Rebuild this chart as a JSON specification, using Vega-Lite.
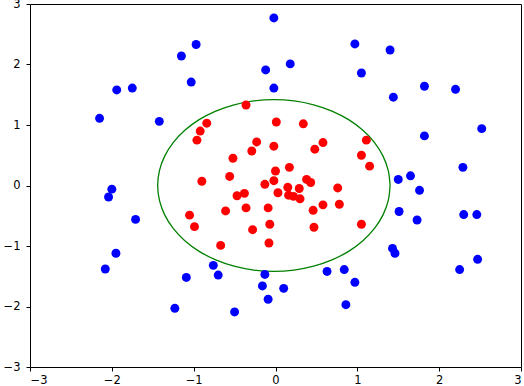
{
  "$schema": "https://vega.github.io/schema/vega-lite/v6.json",
  "width": 491,
  "height": 363,
  "autosize": {"type": "none"},
  "padding": {"left": 30, "top": 4, "right": 3, "bottom": 19},
  "background": "white",
  "config": {
    "view": {"stroke": "black", "strokeWidth": 1},
    "axis": {
      "grid": false,
      "domain": false,
      "tickColor": "black",
      "tickSize": 4,
      "labelColor": "black",
      "labelFont": "DejaVu Sans",
      "labelFontSize": 11.5,
      "format": "d",
      "title": null
    }
  },
  "datasets": {
    "pts": [
      {"x": -0.02, "y": 2.77, "c": "outer"}, {"x": -0.97, "y": 2.33, "c": "outer"}, {"x": -1.15, "y": 2.14, "c": "outer"},
      {"x": -0.12, "y": 1.91, "c": "outer"}, {"x": -1.03, "y": 1.71, "c": "outer"}, {"x": -0.02, "y": 1.61, "c": "outer"},
      {"x": -1.94, "y": 1.58, "c": "outer"}, {"x": -1.75, "y": 1.61, "c": "outer"}, {"x": -2.15, "y": 1.11, "c": "outer"},
      {"x": -1.42, "y": 1.06, "c": "outer"}, {"x": -2.0, "y": -0.06, "c": "outer"}, {"x": -2.04, "y": -0.19, "c": "outer"},
      {"x": 0.97, "y": 2.34, "c": "outer"}, {"x": 1.40, "y": 2.24, "c": "outer"}, {"x": 0.18, "y": 2.01, "c": "outer"},
      {"x": 1.05, "y": 1.86, "c": "outer"}, {"x": 1.82, "y": 1.64, "c": "outer"}, {"x": 2.20, "y": 1.59, "c": "outer"},
      {"x": 1.44, "y": 1.46, "c": "outer"}, {"x": 2.52, "y": 0.94, "c": "outer"}, {"x": 1.82, "y": 0.82, "c": "outer"},
      {"x": 2.29, "y": 0.30, "c": "outer"}, {"x": 1.50, "y": 0.10, "c": "outer"}, {"x": 1.65, "y": 0.16, "c": "outer"},
      {"x": 1.76, "y": -0.08, "c": "outer"}, {"x": 1.51, "y": -0.43, "c": "outer"}, {"x": 1.73, "y": -0.57, "c": "outer"},
      {"x": 2.30, "y": -0.48, "c": "outer"}, {"x": 2.46, "y": -0.48, "c": "outer"}, {"x": 1.43, "y": -1.04, "c": "outer"},
      {"x": 1.46, "y": -1.12, "c": "outer"}, {"x": 2.47, "y": -1.22, "c": "outer"}, {"x": 2.25, "y": -1.39, "c": "outer"},
      {"x": 0.63, "y": -1.42, "c": "outer"}, {"x": 0.84, "y": -1.39, "c": "outer"}, {"x": 0.97, "y": -1.60, "c": "outer"},
      {"x": 0.10, "y": -1.70, "c": "outer"}, {"x": 0.86, "y": -1.97, "c": "outer"}, {"x": -0.09, "y": -1.88, "c": "outer"},
      {"x": -1.71, "y": -0.56, "c": "outer"}, {"x": -1.95, "y": -1.12, "c": "outer"}, {"x": -2.08, "y": -1.38, "c": "outer"},
      {"x": -1.09, "y": -1.52, "c": "outer"}, {"x": -0.76, "y": -1.32, "c": "outer"}, {"x": -0.70, "y": -1.48, "c": "outer"},
      {"x": -0.13, "y": -1.47, "c": "outer"}, {"x": -0.16, "y": -1.66, "c": "outer"}, {"x": -1.23, "y": -2.03, "c": "outer"},
      {"x": -0.50, "y": -2.09, "c": "outer"},
      {"x": -0.36, "y": 1.33, "c": "inner"}, {"x": -0.84, "y": 1.03, "c": "inner"}, {"x": -0.92, "y": 0.90, "c": "inner"},
      {"x": -0.96, "y": 0.75, "c": "inner"}, {"x": 0.01, "y": 1.05, "c": "inner"}, {"x": -0.23, "y": 0.72, "c": "inner"},
      {"x": -0.29, "y": 0.57, "c": "inner"}, {"x": -0.02, "y": 0.65, "c": "inner"}, {"x": -0.52, "y": 0.45, "c": "inner"},
      {"x": -0.56, "y": 0.15, "c": "inner"}, {"x": -0.90, "y": 0.07, "c": "inner"}, {"x": 0.00, "y": 0.24, "c": "inner"},
      {"x": 0.34, "y": 1.02, "c": "inner"}, {"x": 0.58, "y": 0.71, "c": "inner"}, {"x": 0.48, "y": 0.60, "c": "inner"},
      {"x": 1.11, "y": 0.75, "c": "inner"}, {"x": 1.05, "y": 0.50, "c": "inner"}, {"x": 1.15, "y": 0.32, "c": "inner"},
      {"x": 0.17, "y": 0.30, "c": "inner"}, {"x": 0.76, "y": -0.04, "c": "inner"}, {"x": -0.47, "y": -0.17, "c": "inner"},
      {"x": -0.38, "y": -0.13, "c": "inner"}, {"x": -1.05, "y": -0.49, "c": "inner"}, {"x": -0.61, "y": -0.42, "c": "inner"},
      {"x": -0.36, "y": -0.37, "c": "inner"}, {"x": -0.99, "y": -0.68, "c": "inner"}, {"x": -0.09, "y": -0.37, "c": "inner"},
      {"x": -0.07, "y": -0.64, "c": "inner"}, {"x": -0.28, "y": -0.73, "c": "inner"}, {"x": -0.08, "y": -0.95, "c": "inner"},
      {"x": -0.67, "y": -0.99, "c": "inner"}, {"x": 0.46, "y": -0.41, "c": "inner"}, {"x": 0.58, "y": -0.32, "c": "inner"},
      {"x": 0.78, "y": -0.31, "c": "inner"}, {"x": 0.47, "y": -0.69, "c": "inner"}, {"x": 1.05, "y": -0.64, "c": "inner"},
      {"x": -0.13, "y": 0.02, "c": "inner"}, {"x": -0.02, "y": 0.08, "c": "inner"}, {"x": 0.03, "y": -0.12, "c": "inner"},
      {"x": 0.15, "y": -0.03, "c": "inner"}, {"x": 0.16, "y": -0.16, "c": "inner"}, {"x": 0.22, "y": -0.18, "c": "inner"},
      {"x": 0.30, "y": -0.22, "c": "inner"}, {"x": 0.29, "y": -0.05, "c": "inner"}, {"x": 0.38, "y": 0.10, "c": "inner"},
      {"x": 0.43, "y": 0.05, "c": "inner"}
    ],
    "ring": [
      {"o": 0, "x": 1.40, "y": 0}, {"o": 1, "x": 1.378, "y": 0.247}, {"o": 2, "x": 1.314, "y": 0.486},
      {"o": 3, "x": 1.21, "y": 0.71}, {"o": 4, "x": 1.068, "y": 0.913}, {"o": 5, "x": 0.893, "y": 1.088},
      {"o": 6, "x": 0.69, "y": 1.23}, {"o": 7, "x": 0.466, "y": 1.334}, {"o": 8, "x": 0.227, "y": 1.398},
      {"o": 9, "x": -0.02, "y": 1.42}, {"o": 10, "x": -0.267, "y": 1.398}, {"o": 11, "x": -0.506, "y": 1.334},
      {"o": 12, "x": -0.73, "y": 1.23}, {"o": 13, "x": -0.933, "y": 1.088}, {"o": 14, "x": -1.108, "y": 0.913},
      {"o": 15, "x": -1.25, "y": 0.71}, {"o": 16, "x": -1.354, "y": 0.486}, {"o": 17, "x": -1.418, "y": 0.247},
      {"o": 18, "x": -1.44, "y": 0}, {"o": 19, "x": -1.418, "y": -0.247}, {"o": 20, "x": -1.354, "y": -0.486},
      {"o": 21, "x": -1.25, "y": -0.71}, {"o": 22, "x": -1.108, "y": -0.913}, {"o": 23, "x": -0.933, "y": -1.088},
      {"o": 24, "x": -0.73, "y": -1.23}, {"o": 25, "x": -0.506, "y": -1.334}, {"o": 26, "x": -0.267, "y": -1.398},
      {"o": 27, "x": -0.02, "y": -1.42}, {"o": 28, "x": 0.227, "y": -1.398}, {"o": 29, "x": 0.466, "y": -1.334},
      {"o": 30, "x": 0.69, "y": -1.23}, {"o": 31, "x": 0.893, "y": -1.088}, {"o": 32, "x": 1.068, "y": -0.913},
      {"o": 33, "x": 1.21, "y": -0.71}, {"o": 34, "x": 1.314, "y": -0.486}, {"o": 35, "x": 1.378, "y": -0.247},
      {"o": 36, "x": 1.40, "y": 0}
    ]
  },
  "layer": [
    {
      "data": {"name": "ring"},
      "mark": {"type": "line", "color": "#008000", "strokeWidth": 1.3, "interpolate": "cardinal", "clip": true},
      "encoding": {
        "x": {"field": "x", "type": "quantitative", "scale": {"domain": [-3, 3], "nice": false, "zero": false},
              "axis": {"values": [-3, -2, -1, 0, 1, 2, 3], "labelPadding": 3}},
        "y": {"field": "y", "type": "quantitative", "scale": {"domain": [-3, 3], "nice": false, "zero": false},
              "axis": {"values": [-3, -2, -1, 0, 1, 2, 3], "labelPadding": 6}},
        "order": {"field": "o", "type": "quantitative"}
      }
    },
    {
      "data": {"name": "pts"},
      "mark": {"type": "circle", "size": 80, "opacity": 1},
      "encoding": {
        "x": {"field": "x", "type": "quantitative"},
        "y": {"field": "y", "type": "quantitative"},
        "color": {"field": "c", "type": "nominal", "scale": {"domain": ["outer", "inner"], "range": ["#0000ff", "#ff0000"]}, "legend": null}
      }
    }
  ]
}
